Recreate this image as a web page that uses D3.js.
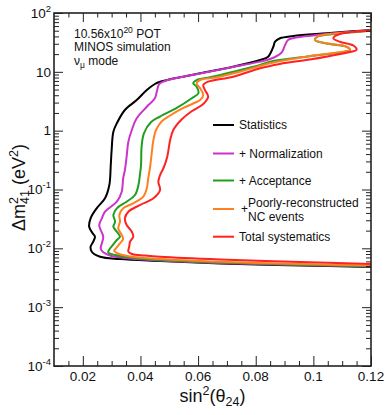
<!DOCTYPE html>
<html>
<head>
<meta charset="utf-8">
<script src="https://cdn.jsdelivr.net/npm/d3@7"></script>
<style>
  body { margin: 0; background: #fff; }
  svg { font-family: "Liberation Sans", Arial, Helvetica, sans-serif; }
  text { white-space: pre; }
</style>
</head>
<body>
<aside></aside>
<script>
const width = 389;
const height = 415;

// tick labels
const xTicks = [0.02, 0.04, 0.06, 0.08, 0.1, 0.12];
const xTickLabels = ['0.02', '0.04', '0.06', '0.08', '0.1', '0.12'];
const yTicks = [1e-4, 1e-3, 1e-2, 1e-1, 1, 10, 100];
const yTickBase = ['10', '10', '10', '10', '1', '10', '10'];
const yTickExp = ['-4', '-3', '-2', '-1', '', '', '2'];

// contours (sin^2 theta24, dm^2 in eV^2)
const statX = [0.12, 0.0954, 0.0676, 0.0468, 0.0329, 0.0260, 0.0231, 0.0227, 0.0236, 0.0242, 0.0234, 0.0222, 0.0227, 0.0248, 0.0277, 0.0292, 0.0297, 0.0300, 0.0306, 0.0318, 0.0346, 0.0387, 0.0422, 0.0450, 0.0468, 0.0503, 0.0560, 0.0607, 0.0721, 0.0815, 0.0843, 0.0861, 0.0867, 0.0884, 0.0930, 0.1046, 0.12];
const statY = [0.00481, 0.00511, 0.00552, 0.00609, 0.00658, 0.00720, 0.00876, 0.01065, 0.01296, 0.01576, 0.0180, 0.0233, 0.0324, 0.0479, 0.0709, 0.119, 0.261, 0.469, 0.960, 1.334, 2.245, 3.32, 4.91, 6.21, 6.80, 7.46, 8.49, 9.44, 12.2, 15.9, 18.1, 26.7, 32.5, 37.2, 40.6, 45.2, 51.4];

const normX = [0.12, 0.0954, 0.0676, 0.0468, 0.0364, 0.0294, 0.0271, 0.0262, 0.0266, 0.0271, 0.0262, 0.0257, 0.0266, 0.0277, 0.0318, 0.0335, 0.0340, 0.0346, 0.0352, 0.0358, 0.0370, 0.0387, 0.0422, 0.0450, 0.0458, 0.0465, 0.0485, 0.0537, 0.0607, 0.0721, 0.0815, 0.0850, 0.0877, 0.0891, 0.0902, 0.0912, 0.0933, 0.1047, 0.12];
const normY = [0.00491, 0.00521, 0.00563, 0.00621, 0.00671, 0.00755, 0.00856, 0.0100, 0.01217, 0.01576, 0.0205, 0.0249, 0.0324, 0.0419, 0.0620, 0.0917, 0.155, 0.214, 0.361, 0.649, 1.026, 1.62, 2.55, 3.55, 4.91, 6.21, 6.98, 8.07, 9.33, 12.1, 14.9, 16.5, 19.0, 21.7, 28.6, 34.8, 37.6, 44.0, 50.4];

const accX = [0.12, 0.0954, 0.0676, 0.0468, 0.0364, 0.0312, 0.0288, 0.0292, 0.0304, 0.0318, 0.0329, 0.0318, 0.0306, 0.0312, 0.0306, 0.0318, 0.0352, 0.0381, 0.0393, 0.0398, 0.0402, 0.0404, 0.0412, 0.0437, 0.0468, 0.0526, 0.0578, 0.0601, 0.0595, 0.0583, 0.0595, 0.0641, 0.0722, 0.0815, 0.0850, 0.0988, 0.1104, 0.1127, 0.1116, 0.1046, 0.1006, 0.1012, 0.1034, 0.12];
const accY = [0.00495, 0.00527, 0.00574, 0.00633, 0.00698, 0.00770, 0.00856, 0.00955, 0.01139, 0.01385, 0.01576, 0.01917, 0.0233, 0.02835, 0.0369, 0.0479, 0.0620, 0.0806, 0.119, 0.176, 0.261, 0.534, 0.902, 1.40, 1.74, 2.43, 3.55, 4.32, 5.59, 6.38, 7.26, 8.07, 10.05, 13.1, 14.9, 18.4, 21.8, 23.3, 26.5, 30.3, 34.5, 39.2, 41.9, 50.0];

const ncX = [0.12, 0.0954, 0.0676, 0.0468, 0.0364, 0.0322, 0.0309, 0.0315, 0.0329, 0.0340, 0.0335, 0.0323, 0.0329, 0.0327, 0.0340, 0.0375, 0.0410, 0.0422, 0.0427, 0.0433, 0.0439, 0.0445, 0.0454, 0.0475, 0.0503, 0.0549, 0.0583, 0.0607, 0.0618, 0.0607, 0.0595, 0.0607, 0.0665, 0.0745, 0.0850, 0.0988, 0.1104, 0.1127, 0.1116, 0.1046, 0.1006, 0.1012, 0.1034, 0.12];
const ncY = [0.00511, 0.00541, 0.00590, 0.00658, 0.00726, 0.00817, 0.00918, 0.0100, 0.01217, 0.0144, 0.01684, 0.0219, 0.02835, 0.0369, 0.0479, 0.0583, 0.0754, 0.1048, 0.155, 0.232, 0.412, 0.694, 1.026, 1.459, 1.81, 2.43, 2.895, 3.32, 4.04, 5.25, 6.38, 7.26, 8.07, 10.05, 13.96, 18.6, 22.0, 23.5, 26.7, 30.5, 34.8, 39.5, 42.3, 50.4];

const totX = [0.12, 0.0954, 0.0676, 0.0468, 0.0416, 0.0370, 0.0358, 0.0361, 0.0364, 0.0375, 0.0370, 0.0352, 0.0346, 0.0358, 0.0398, 0.0445, 0.0468, 0.0462, 0.0468, 0.0480, 0.0493, 0.0503, 0.0514, 0.0541, 0.0579, 0.0618, 0.0635, 0.0624, 0.0618, 0.0635, 0.0722, 0.0815, 0.0884, 0.0988, 0.1058, 0.1127, 0.1150, 0.1139, 0.1092, 0.1069, 0.1092, 0.12];
const totY = [0.00541, 0.00585, 0.00646, 0.00720, 0.00755, 0.00801, 0.00876, 0.01065, 0.01296, 0.01576, 0.01917, 0.0249, 0.0324, 0.0419, 0.0545, 0.0709, 0.098, 0.1356, 0.176, 0.232, 0.361, 0.694, 1.026, 1.518, 2.159, 2.84, 3.78, 4.91, 5.97, 6.80, 8.26, 11.5, 13.6, 16.2, 18.6, 21.7, 23.8, 28.0, 32.5, 37.2, 44.0, 50.0];

const seriesNames = ['Statistics', '+ Normalization', '+ Acceptance', '+ Poorly-reconstructed NC events', 'Total systematics'];
const seriesColors = ['#000000', '#cc33cc', '#1f9f1f', '#ff8020', '#ff2222'];
const seriesX = [statX, normX, accX, ncX, totX];
const seriesY = [statY, normY, accY, ncY, totY];

const margin = { left: 54, right: 18, top: 13, bottom: 49 };

const svg = d3.select('aside')
    .append('svg')
    .attr('width', width)
    .attr('height', height);

const x = d3.scaleLinear().domain([0.01, 0.12]).range([margin.left, width - margin.right]);
const y = d3.scaleLog().domain([1e-4, 1e2]).range([height - margin.bottom, margin.top]);

const [x0, x1] = x.range();
const [y0, y1] = y.range();

svg.append('clipPath').attr('id', 'plot')
    .append('rect')
    .attr('x', x0).attr('y', y1)
    .attr('width', x1 - x0).attr('height', y0 - y1);

// curves
const line = d3.line()
    .x(d => x(d[0]))
    .y(d => y(d[1]))
    .curve(d3.curveCatmullRom.alpha(0.5));

seriesX.forEach((xs, i) => {
    const pts = xs.map((v, j) => [v, seriesY[i][j]]);
    svg.append('path')
        .attr('clip-path', 'url(#plot)')
        .attr('d', line(pts))
        .attr('fill', 'none')
        .attr('stroke', seriesColors[i])
        .attr('stroke-width', 2)
        .attr('stroke-linejoin', 'round');
});

// ticks
const xMinor = d3.range(0.015, 0.1201, 0.005).filter(v => !xTicks.some(t => Math.abs(t - v) < 1e-6));
const yMinor = [];
for (let e = -4; e < 2; e++) {
    for (let m = 2; m <= 9; m++) yMinor.push(m * Math.pow(10, e));
}

function tickAxis(axis, tr) {
    const g = svg.append('g').attr('transform', tr).call(axis);
    g.select('.domain').remove();
    g.selectAll('line').attr('stroke', '#222').attr('stroke-width', 1);
    g.selectAll('text').remove();
}

tickAxis(d3.axisBottom(x).tickValues(xTicks).tickSize(-10), `translate(0,${y0})`);
tickAxis(d3.axisBottom(x).tickValues(xMinor).tickSize(-5), `translate(0,${y0})`);
tickAxis(d3.axisTop(x).tickValues(xTicks).tickSize(-9), `translate(0,${y1})`);
tickAxis(d3.axisTop(x).tickValues(xMinor).tickSize(-4.5), `translate(0,${y1})`);
tickAxis(d3.axisLeft(y).tickValues(yTicks).tickSize(-9), `translate(${x0},0)`);
tickAxis(d3.axisLeft(y).tickValues(yMinor).tickSize(-5), `translate(${x0},0)`);
tickAxis(d3.axisRight(y).tickValues(yTicks).tickSize(-9), `translate(${x1},0)`);
tickAxis(d3.axisRight(y).tickValues(yMinor).tickSize(-5), `translate(${x1},0)`);

// frame
svg.append('rect')
    .attr('x', x0).attr('y', y1)
    .attr('width', x1 - x0).attr('height', y0 - y1)
    .attr('fill', 'none')
    .attr('stroke', '#222')
    .attr('stroke-width', 1.6);

// tick labels
svg.selectAll('.xlab')
    .data(xTicks)
    .join('text')
    .attr('class', 'xlab')
    .attr('x', d => x(d))
    .attr('y', y0 + 14.5)
    .attr('text-anchor', 'middle')
    .attr('font-size', 13.5)
    .attr('fill', '#111')
    .text((d, i) => xTickLabels[i]);

yTicks.forEach((v, i) => {
    const t = svg.append('text')
        .attr('x', x0 - 3)
        .attr('y', y(v) + 4.8)
        .attr('text-anchor', 'end')
        .attr('font-size', 13.5)
        .attr('fill', '#111');
    t.append('tspan').text(yTickBase[i]);
    if (yTickExp[i]) {
        t.append('tspan')
            .attr('font-size', 9.5)
            .attr('dy', -6)
            .text(yTickExp[i]);
    }
});

// axis titles
const xt = svg.append('text')
    .attr('x', (x0 + x1) / 2)
    .attr('y', 402)
    .attr('text-anchor', 'middle')
    .attr('font-size', 18)
    .attr('fill', '#111');
xt.append('tspan').text('sin');
xt.append('tspan').attr('font-size', 12.5).attr('dy', -7).text('2');
xt.append('tspan').attr('dy', 7).text('(θ');
xt.append('tspan').attr('font-size', 12.5).attr('dy', 4).text('24');
xt.append('tspan').attr('dy', -4).text(')');

const yt = svg.append('text')
    .attr('transform', `translate(25,${(y0 + y1) / 2 - 2}) rotate(-90)`)
    .attr('text-anchor', 'middle')
    .attr('font-size', 18)
    .attr('fill', '#111');
yt.append('tspan').text('Δm');
yt.append('tspan').attr('font-size', 12.5).attr('dy', -7).text('2');
yt.append('tspan').attr('font-size', 12.5).attr('dx', -7).attr('dy', 11).text('41');
yt.append('tspan').attr('dy', -4).text('\u00a0(eV');
yt.append('tspan').attr('font-size', 12.5).attr('dy', -7).text('2');
yt.append('tspan').attr('dy', 7).text(')');

// annotation
const note = svg.append('g').attr('font-size', 12).attr('fill', '#111');
const n1 = note.append('text').attr('x', 74).attr('y', 37.5);
n1.append('tspan').text('10.56x10');
n1.append('tspan').attr('font-size', 8.5).attr('dy', -5).text('20');
n1.append('tspan').attr('dy', 5).text(' POT');
note.append('text').attr('x', 74).attr('y', 51).text('MINOS simulation');
const n3 = note.append('text').attr('x', 74).attr('y', 65);
n3.append('tspan').text('ν');
n3.append('tspan').attr('font-size', 8.5).attr('dy', 3).text('μ');
n3.append('tspan').attr('dy', -3).text(' mode');

// legend
const legY = [125, 153.5, 180.5, 209, 236.7];
const leg = svg.append('g').attr('font-size', 12).attr('fill', '#111');
seriesNames.forEach((name, i) => {
    leg.append('line')
        .attr('x1', 213).attr('x2', 234)
        .attr('y1', legY[i]).attr('y2', legY[i])
        .attr('stroke', seriesColors[i])
        .attr('stroke-width', 2);
});
leg.append('text').attr('x', 239).attr('y', legY[0] + 4.3).text(seriesNames[0]);
leg.append('text').attr('x', 239).attr('y', legY[1] + 4.3).text(seriesNames[1]);
leg.append('text').attr('x', 239).attr('y', legY[2] + 4.3).text(seriesNames[2]);
leg.append('text').attr('x', 241).attr('y', legY[3] + 4.3).text('+');
leg.append('text').attr('x', 248).attr('y', legY[3] - 1.8).text('Poorly-reconstructed');
leg.append('text').attr('x', 248).attr('y', legY[3] + 12.3).text('NC events');
leg.append('text').attr('x', 239).attr('y', legY[4] + 4.3).text(seriesNames[4]);
</script>
</body>
</html>
